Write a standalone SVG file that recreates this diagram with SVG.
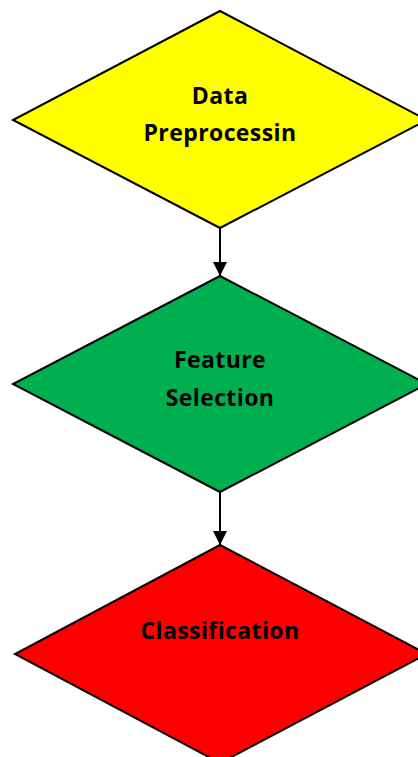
<svg xmlns="http://www.w3.org/2000/svg" width="418" height="757" viewBox="0 0 418 757">
<style>
.d{stroke:#000;stroke-width:2;stroke-linejoin:miter}
.t{font-family:"Open Sans","Liberation Sans",sans-serif;font-weight:bold;font-size:23px;letter-spacing:0.4px;fill:#000;text-anchor:middle}
.c{stroke:#000;stroke-width:2;fill:none}
</style>
<defs>
<marker id="ah" viewBox="0 0 14 14" markerWidth="14" markerHeight="14" refX="14" refY="7" orient="auto" markerUnits="userSpaceOnUse">
<path d="M0,0 L14,7 L0,14 z" fill="#000"/>
</marker>
</defs>
<rect width="418" height="757" fill="#fff"/>
<g id="connectors">
<line class="c" x1="220" y1="228" x2="220" y2="276" marker-end="url(#ah)"/>
<line class="c" x1="220" y1="492" x2="220" y2="545" marker-end="url(#ah)"/>
</g>
<g id="data-preprocessing">
<polygon class="d" fill="#ffff00" points="220,11 427,120 220,228 13,120"/>
<text class="t" x="220" y="104">Data</text>
<text class="t" x="220" y="141">Preprocessin</text>
</g>
<g id="feature-selection">
<polygon class="d" fill="#00b050" points="220,276 427,384 220,492 13,384"/>
<text class="t" x="220" y="368">Feature</text>
<text class="t" x="220" y="406">Selection</text>
</g>
<g id="classification">
<polygon class="d" fill="#ff0000" points="220,545 427,654 220,763 15,654"/>
<text class="t" x="220" y="639">Classification</text>
</g>
</svg>
